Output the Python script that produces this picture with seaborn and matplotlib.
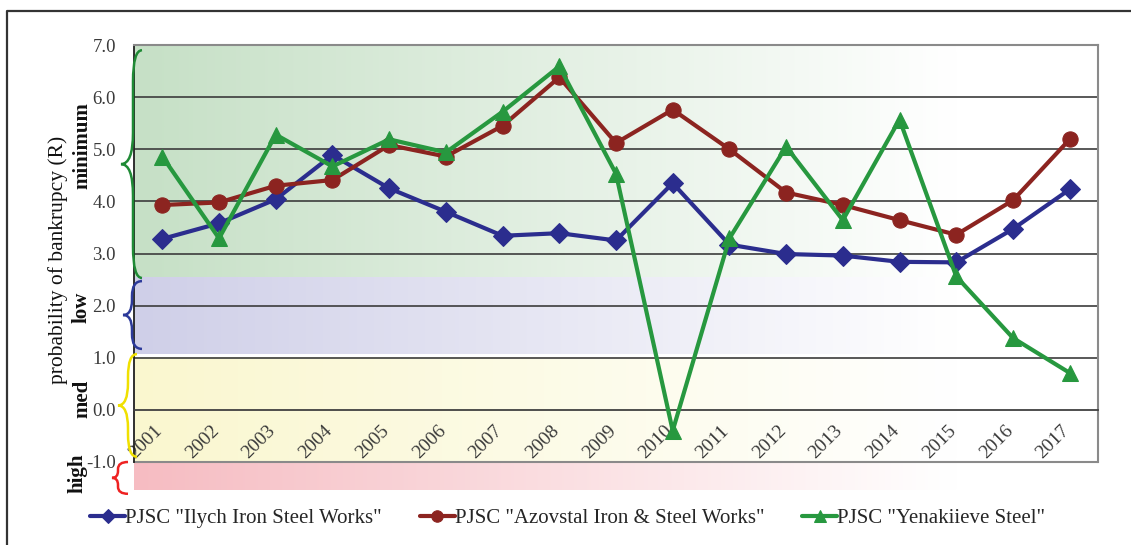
import numpy as np
import pandas as pd
import matplotlib
matplotlib.use('Agg')
import matplotlib.pyplot as plt
from matplotlib.path import Path
from matplotlib.patches import PathPatch
from matplotlib.lines import Line2D
import seaborn as sns

# data
years = [str(y) for y in range(2001, 2018)]
ilych = [3.28, 3.58, 4.04, 4.89, 4.25, 3.80, 3.34, 3.39, 3.25, 4.35, 3.17, 2.99, 2.96, 2.84, 2.83, 3.47, 4.23]
azovstal = [3.93, 3.98, 4.30, 4.41, 5.08, 4.86, 5.45, 6.38, 5.12, 5.76, 5.00, 4.17, 3.93, 3.64, 3.36, 4.02, 5.19]
yenakiieve = [4.86, 3.29, 5.28, 4.67, 5.19, 4.94, 5.72, 6.59, 4.53, -0.40, 3.29, 5.05, 3.64, 5.57, 2.56, 1.38, 0.71]
series_names = ['PJSC "Ilych Iron Steel Works"', 'PJSC "Azovstal Iron & Steel Works"',
                'PJSC "Yenakiieve Steel"']
y_ticks = [-1.0, 0.0, 1.0, 2.0, 3.0, 4.0, 5.0, 6.0, 7.0]

# risk zones: name, (bottom, top), band colour, brace colour
zone_names = ['minimum', 'low', 'med', 'high']
zone_spans = [(2.53, 7.0), (1.07, 2.53), (-1.0, 1.0), (-1.54, -1.0)]
zone_colors = ['#c6e0c6', '#cfcfe8', '#faf7cf', '#f6bcc2']
brace_colors = ['#1f8a35', '#2c3a9a', '#f0e000', '#ee2222']

sns.set_style('white')
plt.rcParams['font.family'] = ['Liberation Serif', 'DejaVu Serif']

fig = plt.figure(figsize=(11.31, 5.45), dpi=100)
ax = fig.add_axes([134 / 1131, 1 - 462 / 545, 964 / 1131, 417 / 545])

n = len(years)
xs = np.arange(n)
ax.set_xlim(-0.5, n - 0.5)
ax.set_ylim(-1.0, 7.0)


def band(y0, y1, color, fade=0.85):
    rgb = np.array(matplotlib.colors.to_rgb(color))
    t = np.clip(np.linspace(0, 1, 256) / fade, 0, 1)[:, None]
    img = rgb * (1 - t) + np.ones(3) * t
    ax.imshow(img[None, :, :], extent=(-0.5, n - 0.5, y0, y1), aspect='auto',
              zorder=0, clip_on=False, interpolation='bicubic')


for (y0, y1), c in zip(zone_spans, zone_colors):
    band(y0, y1, c)

# gridlines
for t in y_ticks[2:-1]:
    ax.axhline(t, color='#3c3c3c', lw=1.2, zorder=1)
ax.axhline(-1.0, color='#8a8a8a', lw=1.5, zorder=1, clip_on=False)

# lines
df = pd.DataFrame({'x': np.tile(xs, 3),
                   'R': ilych + azovstal + yenakiieve,
                   'company': np.repeat(series_names, n)})
styles = [('#2b2d8e', 'D', 10), ('#8c2420', 'o', 11), ('#27983f', '^', 12)]
for name, (col, mk, ms) in zip(series_names, styles):
    sub = df[df['company'] == name]
    sns.lineplot(data=sub, x='x', y='R', color=col, marker=mk, markersize=ms,
                 markeredgecolor=col, lw=3, label=name, ax=ax, zorder=3)

# axes styling
ax.spines['bottom'].set_position(('data', 0))
ax.spines['bottom'].set_color('#404040')
ax.spines['bottom'].set_linewidth(1.3)
ax.spines['left'].set_color('#202020')
ax.spines['left'].set_linewidth(1.3)
for s in ['top', 'right']:
    ax.spines[s].set_color('#8a8a8a')
    ax.spines[s].set_linewidth(1.5)
ax.set_xticks(np.arange(-0.5, n, 1.0))
ax.tick_params(axis='x', direction='out', length=5, width=1.2, color='#404040', labelbottom=False)
ax.set_yticks(y_ticks)
ax.set_yticklabels([f'{t:.1f}' for t in y_ticks])
ax.tick_params(axis='y', direction='out', length=5, width=1.2, color='#202020', pad=8,
               labelsize=13.5, labelcolor='#3a3a3a')
ax.set_xlabel('')
ax.set_ylabel('')

for i, yr in enumerate(years):
    ax.text(i - 0.43, -0.99, yr, rotation=45, rotation_mode='anchor', ha='left', va='bottom',
            fontsize=14, color='#3a3a3a', zorder=2)

# braces and zone labels left of the axis
trans = ax.get_yaxis_transform()
brace_x = [(142, 133, 121), (142, 132, 123), (137, 128, 118), (128, 118, 112)]


def brace(y_bot, y_top, px_end, px_body, px_tip, color):
    fx = lambda p: (p - 134) / 964
    xe, xb, xt = fx(px_end), fx(px_body), fx(px_tip)
    ym = (y_bot + y_top) / 2
    r = min(0.6, (y_top - y_bot) * 0.22)
    verts = [(xe, y_top), (xb, y_top), (xb, y_top - r), (xb, ym + r),
             (xb, ym), (xt, ym), (xb, ym), (xb, ym - r),
             (xb, y_bot + r), (xb, y_bot), (xe, y_bot)]
    codes = [Path.MOVETO, Path.CURVE3, Path.CURVE3, Path.LINETO,
             Path.CURVE3, Path.CURVE3, Path.CURVE3, Path.CURVE3,
             Path.LINETO, Path.CURVE3, Path.CURVE3]
    ax.add_patch(PathPatch(Path(verts, codes), fill=False, edgecolor=color, lw=1.8,
                           transform=trans, clip_on=False, zorder=4))


brace_spans = [(2.53, 6.9), (1.17, 2.47), (-0.9, 1.07), (-1.61, -1.0)]
for (y0, y1), (pe, pb, pt), c in zip(brace_spans, brace_x, brace_colors):
    brace(y0, y1, pe, pb, pt, c)

label_y = [5.07, 1.96, 0.21, -1.22]
label_px = [82, 82, 82, 77]
for name, yy, px in zip(zone_names, label_y, label_px):
    ax.text((px - 134) / 964, yy, name, transform=trans, rotation=90, ha='center', va='center',
            fontsize=15, fontweight='bold', color='#111111')

fig.text(58 / 1131, 1 - 260 / 545, 'probability of bankrupcy (R)', rotation=90,
         ha='center', va='center', fontsize=15.5, color='#111111')

# legend at the bottom
handles, labels = ax.get_legend_handles_labels()
ax.get_legend().remove()
fig.legend(handles, labels, loc='center', bbox_to_anchor=(0.502, 1 - 518 / 545), ncol=3,
           frameon=False, fontsize=15, handlelength=1.7, handletextpad=0.0,
           columnspacing=1.8, markerscale=0.75)

# outer frame (top and left edges)
fig.add_artist(Line2D([7 / 1131, 7 / 1131, 1.0], [0.0, 1 - 11 / 545, 1 - 11 / 545],
                      transform=fig.transFigure, color='#333333', lw=1.6))

fig.savefig('out.png', dpi=100)
